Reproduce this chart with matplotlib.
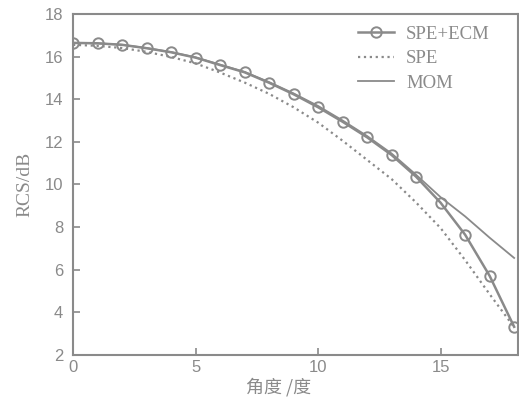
import matplotlib
matplotlib.use('Agg')
import matplotlib.pyplot as plt
import numpy as np

# angle (deg) and RCS (dB)
angles = [0, 1, 2, 3, 4, 5, 6, 7, 8, 9, 10, 11, 12, 13, 14, 15, 16, 17, 18]
spe_ecm = [16.64, 16.62, 16.55, 16.39, 16.2, 15.95, 15.6, 15.26, 14.77, 14.23,
           13.62, 12.94, 12.21, 11.38, 10.36, 9.14, 7.64, 5.71, 3.32]
spe = [16.55, 16.5, 16.4, 16.22, 15.98, 15.68, 15.25, 14.78, 14.25, 13.62,
       12.9, 12.05, 11.15, 10.25, 9.15, 7.95, 6.45, 4.85, 3.3]
mom = [16.64, 16.62, 16.55, 16.4, 16.21, 15.96, 15.62, 15.28, 14.8, 14.27,
       13.68, 13.0, 12.27, 11.45, 10.45, 9.4, 8.5, 7.5, 6.55]

gray = '#8a8a8a'

fig = plt.figure(figsize=(5.19, 3.97), dpi=100)
ax = fig.add_axes([0.1407, 0.106, 0.857, 0.859])

ax.plot(angles, mom, '-', color=gray, lw=1.3, label='MOM')
ax.plot(angles, spe, ':', color=gray, lw=1.6, label='SPE')
ax.plot(angles, spe_ecm, '-', color=gray, lw=1.8, marker='o', ms=7.5,
        mfc='none', mec=gray, mew=1.4, label='SPE+ECM')

ax.set_xlim(0, 18.15)
ax.set_ylim(2, 18)
ax.set_xticks([0, 5, 10, 15])
ax.set_yticks(np.arange(2, 19, 2))

for s in ax.spines.values():
    s.set_color(gray)
    s.set_linewidth(1.5)
ax.tick_params(direction='in', length=5, width=1.2, color=gray,
               labelcolor=gray, labelsize=12)
ax.tick_params(axis='y', pad=7)
ax.tick_params(axis='x', pad=4)
for lbl in ax.get_xticklabels() + ax.get_yticklabels():
    lbl.set_family('Liberation Sans')

ax.set_ylabel('RCS/dB', family='Liberation Serif', fontsize=14, color=gray, labelpad=8)
ax.set_xlabel('角度 /度', family=['Noto Sans CJK SC', 'DejaVu Sans'], fontsize=13,
              color=gray, va='center')
ax.xaxis.set_label_coords(0.463, -0.093)

h, l = ax.get_legend_handles_labels()
order = [2, 1, 0]
leg = ax.legend([h[i] for i in order], [l[i] for i in order], loc='upper right',
                frameon=False, prop={'family': 'Liberation Serif', 'size': 13.5},
                handlelength=1.9, handletextpad=0.65, labelspacing=0.4,
                bbox_to_anchor=(0.975, 1.015))
for t in leg.get_texts():
    t.set_color(gray)

fig.savefig('out.png', dpi=100)
